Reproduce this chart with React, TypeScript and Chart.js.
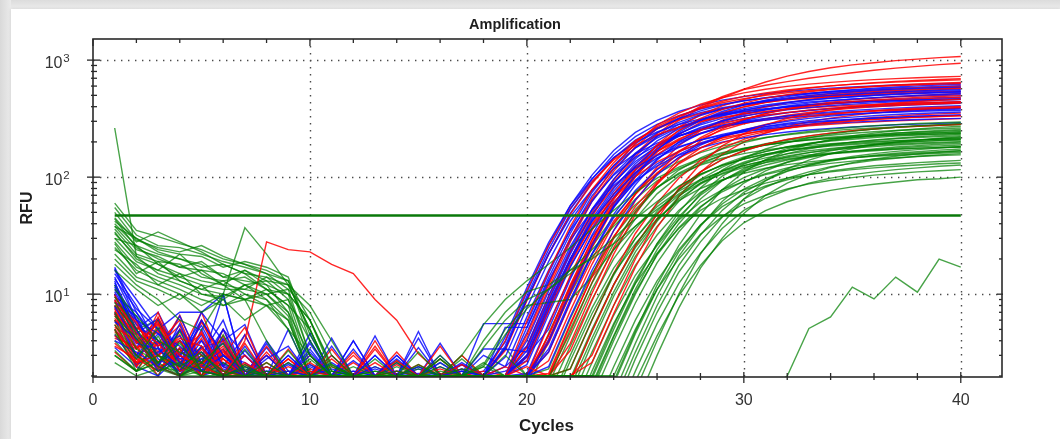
import React, { useEffect, useRef } from "react";
import { Chart, registerables } from "chart.js";

Chart.register(...registerables);

// ---------------- DATA ----------------
const cycles = [1, 2, 3, 4, 5, 6, 7, 8, 9, 10, 11, 12, 13, 14, 15, 16, 17, 18, 19, 20, 21, 22, 23, 24, 25, 26, 27, 28, 29, 30, 31, 32, 33, 34, 35, 36, 37, 38, 39, 40];
const xTickLabels = [0, 10, 20, 30, 40];
const xMinorTicks = [2, 4, 6, 8, 12, 14, 16, 18, 22, 24, 26, 28, 32, 34, 36, 38];
const yTickLabels = [10, 100, 1000];
const yTickExponents = ["1", "2", "3"];
const yMinorTicks = [2, 3, 4, 5, 6, 7, 8, 9, 20, 30, 40, 50, 60, 70, 80, 90, 200, 300, 400, 500, 600, 700, 800, 900];
const thresholdRFU = 47;
const thresholdCycles = [1, 40];

// each curve: s = first cycle of the rise, n = baseline RFU from cycle 1, r = RFU from cycle s to 40
const blueCurves = [
  { s: 19, n: [17, 7, 4, 3, 6, 3, 2.2, 3, 2, 4.6, 2, 2.2, 2, 2, 2.1, 2, 2, 2.2, 2.5, 2, 2, 2, 2, 2], r: [3.9, 10.4, 26, 57, 104, 169, 241, 306, 364, 413, 455, 488, 516, 540, 559, 576, 590, 602, 612, 621, 629, 636] },
  { s: 19, n: [14, 6, 3, 5, 2.5, 10, 2, 2, 3, 2, 4.2, 2, 2.3, 2, 2, 2, 2.5, 2, 2, 2.3, 2, 2, 2, 2], r: [3.4, 9, 22, 49, 90, 146, 207, 263, 314, 356, 392, 420, 445, 465, 482, 496, 508, 519, 528, 535, 542, 548] },
  { s: 19, n: [12, 5, 7, 3, 4, 2.5, 2, 3.5, 2, 2, 2, 4, 2, 2, 4.8, 2, 2, 2, 2.2, 2, 2, 2, 2, 2], r: [2.9, 7.7, 19, 42, 77, 125, 178, 226, 269, 305, 336, 360, 381, 398, 413, 425, 436, 444, 452, 459, 465, 469] },
  { s: 19, n: [10, 4, 3, 6.5, 2.6, 3, 2.2, 2, 2.5, 2, 2, 2, 3, 2, 2, 2.4, 2, 3, 2, 2, 2, 2, 2, 2], r: [2.4, 6.4, 16, 35, 64, 104, 148, 188, 224, 254, 280, 300, 318, 332, 344, 354, 363, 370, 377, 382, 387, 391] },
  { s: 20, n: [9, 3.5, 6, 2.5, 7, 4, 5.5, 2, 2, 3.2, 2, 2.2, 2, 2.6, 2, 2, 2, 5.6, 5.6, 2, 2, 2, 2, 2], r: [5.6, 15, 36, 74, 126, 192, 258, 317, 368, 412, 448, 477, 502, 522, 539, 554, 567, 578, 587, 595, 603] },
  { s: 20, n: [8, 5, 2.5, 4, 3, 6, 2, 4, 2.2, 2, 3, 2, 2, 2, 3.5, 2, 2, 2, 2, 3.2, 2, 2, 2, 2], r: [4.7, 12.5, 30, 62, 106, 161, 216, 266, 309, 345, 375, 400, 421, 438, 452, 465, 475, 485, 492, 499, 505] },
  { s: 20, n: [7, 3, 5, 2.2, 3.5, 2.4, 4.5, 2, 3, 2, 2, 2.7, 2, 2, 2, 2, 2.3, 2, 2, 2, 2, 2, 2, 2], r: [4, 10.6, 25.5, 53, 90, 136, 183, 225, 261, 292, 318, 339, 356, 370, 383, 393, 402, 410, 416, 422, 428] },
  { s: 20, n: [6, 4, 2.4, 5, 2, 3, 2.6, 2, 2, 4, 2, 2, 2, 2.2, 2, 3, 2, 2, 2.4, 2, 2, 2, 2, 2], r: [3.6, 9.6, 24, 53, 96, 156, 222, 282, 336, 382, 420, 450, 476, 498, 516, 532, 545, 556, 565, 574, 581] },
  { s: 20, n: [16, 9, 5, 7, 7, 10, 2, 2.2, 2, 2.4, 2, 2, 2, 3, 2, 2, 2, 2, 2, 2, 2, 2, 2, 2], r: [3, 8, 20, 44, 80, 130, 185, 235, 280, 318, 350, 375, 397, 415, 430, 443, 454, 463, 471, 478, 484] },
  { s: 20, n: [11, 6, 3, 2.5, 4.5, 2, 3, 2, 5, 2, 2, 2, 2, 2, 2.3, 2, 2, 2, 2, 2, 2, 2, 2, 2], r: [2.5, 6.7, 17, 37, 67, 109, 155, 197, 235, 267, 294, 315, 333, 349, 361, 372, 381, 389, 396, 402, 407] },
  { s: 20, n: [5, 3, 4, 2, 2.6, 5, 2, 2.4, 2, 2, 3.6, 2, 2, 2, 2, 2, 2.2, 2, 2, 2, 2, 2, 2, 2], r: [2.1, 5.6, 14, 31, 56, 91, 130, 165, 196, 223, 245, 263, 278, 291, 301, 310, 318, 324, 330, 335, 339] },
  { s: 21, n: [13, 4, 2.6, 3.4, 2, 4.2, 2, 2, 2, 2.5, 2, 4, 2, 2, 2, 2, 2, 2, 2, 3, 2, 2, 2, 2], r: [5, 13.4, 32, 67, 114, 174, 233, 287, 333, 372, 404, 431, 454, 472, 487, 501, 512, 522, 530, 538] },
  { s: 21, n: [4.5, 2.5, 3.2, 4, 2, 2.3, 2, 3.8, 2, 2, 2, 2, 2.4, 2, 4.2, 2, 2, 2, 2, 2, 2, 2, 2, 2], r: [4.1, 11, 27, 55, 94, 143, 191, 236, 273, 305, 332, 354, 373, 387, 400, 411, 420, 429, 435, 442] },
  { s: 21, n: [9.5, 7, 3.5, 2, 5, 2.2, 2, 2, 2.6, 2, 2, 2, 2, 3, 2, 2, 2.5, 2, 2, 2, 2, 2, 2, 2], r: [3.2, 8.6, 22, 48, 86, 140, 200, 254, 302, 343, 378, 405, 429, 448, 464, 478, 490, 500, 509, 516] },
  { s: 20, n: [3.5, 2.4, 2, 3, 2.4, 2, 3.3, 2, 2, 2, 2.3, 2, 2, 2, 2, 2.6, 2, 2, 2.2, 2, 2, 2, 2, 2], r: [2.7, 7.2, 17.4, 36, 61, 93, 125, 154, 178, 199, 217, 231, 243, 253, 261, 268, 274, 280, 284, 288, 292] },
  { s: 19, n: [12.5, 5.5, 4, 2.2, 2.8, 3.8, 2, 2, 2, 3.4, 2, 2, 2, 2, 2, 2, 2, 2, 2, 2, 2, 2, 2, 2], r: [3.4, 9.1, 22, 46, 78, 118, 158, 195, 226, 252, 274, 293, 308, 320, 331, 340, 347, 354, 359, 365, 369, 372] },
  { s: 19, n: [15, 8, 3.6, 4.4, 2.2, 5, 3, 2, 2, 2, 2.6, 2, 4.4, 2, 2, 2, 2, 2, 2, 2, 2, 2, 2, 2], r: [3.6, 9.6, 24, 53, 96, 156, 222, 282, 336, 382, 420, 450, 476, 498, 516, 532, 545, 556, 565, 574, 581, 587] },
  { s: 19, n: [11.5, 4.6, 6.2, 3, 2, 2.6, 2, 2.8, 3.6, 2, 2, 2, 2, 2, 2, 3.8, 2, 2, 2, 2, 2, 2, 2, 2], r: [4.3, 11.4, 27.6, 57, 97, 147, 198, 243, 282, 315, 343, 366, 385, 400, 413, 425, 434, 443, 449, 456, 462, 466] },
  { s: 20, n: [8.5, 6.5, 2.8, 2.2, 4, 2, 3.6, 2, 2, 2, 2, 2, 2, 2, 2.4, 2, 2, 2, 5.2, 2, 2, 2, 2, 2], r: [5.2, 13.8, 33, 69, 117, 178, 239, 294, 342, 382, 415, 443, 466, 484, 500, 514, 526, 536, 544, 552, 559] },
  { s: 20, n: [6.8, 2.8, 4.6, 3.6, 2.4, 3.4, 2, 2, 2, 3, 2, 2, 2, 2.8, 2, 2, 2, 2, 2, 2, 2, 2, 2, 2], r: [2.9, 7.6, 19, 42, 76, 124, 176, 223, 266, 302, 333, 356, 377, 394, 409, 421, 431, 440, 447, 454, 460] },
  { s: 21, n: [13.5, 7.5, 5, 2.8, 3.2, 2, 2, 2.2, 2, 2, 2, 2, 2, 2, 2, 2, 2.6, 2, 2, 2, 2, 2, 2, 2], r: [3.9, 10.4, 26, 57, 104, 169, 241, 306, 364, 413, 455, 488, 516, 540, 559, 576, 590, 602, 612, 621] },
  { s: 21, n: [5.8, 4.2, 2.2, 3, 5.4, 2.4, 2, 3, 2, 2, 2, 3.4, 2, 2, 2, 2, 2, 2, 2, 2, 2, 2, 2, 2], r: [3.4, 9, 22, 45, 77, 116, 156, 192, 223, 249, 271, 289, 304, 316, 326, 335, 343, 350, 355, 360] },
  { s: 20, n: [10.5, 5, 2.4, 5.6, 2.2, 2, 2.4, 2, 2, 2, 2, 2, 2, 2, 2, 2, 2, 3.4, 3.4, 2, 2, 2, 2, 2], r: [3.2, 8.4, 20, 42, 71, 109, 146, 179, 208, 232, 253, 270, 284, 295, 305, 313, 320, 326, 331, 336, 340] },
  { s: 19, n: [4, 3.2, 2.4, 2, 3.6, 2, 2, 2, 2.2, 2, 2, 2, 2, 2, 2, 2, 2, 2, 2, 2, 2, 2, 2, 2], r: [2, 5.2, 13, 29, 52, 85, 120, 153, 182, 207, 228, 244, 258, 270, 280, 288, 295, 301, 306, 311, 315, 318] },
  { s: 20, n: [16.5, 6, 4.6, 2.6, 2.2, 3, 2.2, 2, 2, 3.8, 2, 2, 2, 2, 2, 2, 2.2, 2, 2, 2, 2, 2, 2, 2], r: [3.3, 8.8, 22, 48, 88, 143, 204, 259, 308, 350, 385, 413, 437, 457, 473, 487, 499, 509, 518, 526, 532] },
  { s: 21, n: [7.8, 3.8, 3.4, 2.4, 6, 3, 2, 2, 2, 2, 2, 2, 3, 2, 2, 2, 2, 2, 2, 2, 2, 2, 2, 2], r: [2.4, 6.4, 16, 35, 64, 104, 148, 188, 224, 254, 280, 300, 318, 332, 344, 354, 363, 370, 377, 382] },
];

const redCurves = [
  { s: 20, n: [10, 4, 6, 3, 7, 2.5, 3, 2, 2, 2.3, 2, 2, 4, 2, 2, 2, 2, 2, 2, 2, 2, 2, 2, 2], r: [3.5, 9, 23, 50, 95, 158, 235, 318, 403, 487, 565, 650, 730, 800, 860, 910, 950, 990, 1020, 1050, 1075] },
  { s: 20, n: [8.5, 6, 3.2, 6.6, 2.5, 2, 4.5, 2, 2, 2, 2, 2, 2, 2.5, 2, 2, 2, 2.2, 2, 2, 2, 2, 2, 2], r: [3, 8, 20, 46, 90, 150, 225, 305, 390, 475, 560, 610, 655, 700, 740, 780, 820, 855, 885, 915, 940] },
  { s: 19, n: [7.5, 3, 7, 2.6, 3.5, 4, 2, 2.6, 2, 2, 2, 3.2, 2, 2, 2, 2, 2, 2, 2, 2, 2, 2, 2, 2], r: [3.3, 8.8, 22, 48, 88, 143, 204, 259, 308, 350, 385, 413, 437, 457, 473, 487, 499, 509, 518, 526, 532, 538] },
  { s: 20, n: [6.5, 5, 2.6, 4.5, 2, 5, 2.2, 2, 3.4, 2, 2, 2, 2, 2, 2.5, 2, 2, 2, 2, 2, 2, 2, 2, 2], r: [4.2, 11.2, 28, 62, 112, 182, 259, 329, 392, 445, 490, 525, 556, 581, 602, 620, 636, 648, 659, 669, 678] },
  { s: 20, n: [5.5, 2.6, 5.5, 2.2, 6, 2.4, 2, 2, 2, 3, 2, 2, 2, 2, 2, 2, 2.3, 2, 2, 2, 2, 2, 2, 2], r: [3.6, 9.6, 23, 48, 82, 124, 166, 205, 238, 266, 289, 308, 324, 337, 348, 358, 366, 373, 378, 384, 389] },
  { s: 21, n: [9, 4.8, 2.2, 3.5, 2.6, 3, 5.2, 2, 2, 2, 2, 2.6, 2, 2, 2, 2, 2, 2, 2, 2, 2, 2, 2, 2], r: [3.8, 10, 25, 55, 100, 163, 231, 294, 350, 398, 438, 469, 496, 519, 538, 554, 568, 579, 589, 598] },
  { s: 21, n: [4.2, 3.6, 2, 5, 3, 2, 2.5, 2, 2.8, 2, 2, 2, 2, 3.2, 2, 2, 2, 2, 2, 2, 2, 2, 2, 2], r: [3.2, 8.4, 20, 42, 71, 109, 146, 179, 208, 232, 253, 270, 284, 295, 305, 313, 320, 326, 331, 336] },
  { s: 21, n: [3.2, 2.2, 4, 2, 2.5, 3.6, 2, 2, 2, 2, 2.4, 2, 2, 2, 2, 2, 2, 2, 2.4, 2, 2, 2, 2, 2], r: [2.7, 7.2, 18, 40, 72, 117, 167, 212, 252, 286, 315, 338, 357, 374, 387, 399, 409, 417, 424, 430] },
  { s: 22, n: [7, 4, 3, 2.4, 4.2, 2, 2, 3, 2, 2, 2, 2, 2, 2, 2, 2, 2, 2, 2, 2, 2, 2, 2, 2], r: [5.4, 14.4, 35, 72, 122, 186, 250, 307, 356, 398, 433, 462, 486, 505, 522, 536, 548, 559, 568] },
  { s: 22, n: [6, 2.4, 3.8, 6, 2.2, 2, 2, 2, 2, 2, 2, 2, 3.6, 2, 2, 2, 2, 2, 2, 2, 2, 2, 2, 2], r: [2.3, 6, 15, 33, 60, 98, 139, 176, 210, 239, 263, 281, 298, 311, 323, 332, 341, 347, 353] },
  { s: 21, n: [9.5, 5.5, 3, 2.2, 5.8, 2.8, 2, 2, 2.2, 2, 2.8, 2, 2, 2, 2, 2, 2, 2, 2, 2, 2, 2, 2, 2], r: [4.5, 12, 29, 60, 102, 155, 208, 256, 297, 332, 361, 385, 405, 421, 435, 447, 457, 466, 473, 480] },
  { s: 22, n: [4.8, 3, 2.4, 2.8, 2, 4, 2, 3.2, 2, 2, 2, 2, 2, 2, 2, 2.8, 2, 2, 2, 2, 2, 2, 2, 2], r: [3.3, 8.8, 22, 48, 88, 143, 204, 259, 308, 350, 385, 413, 437, 457, 473, 487, 499, 509, 518] },
  { s: 20, n: [5, 3, 2.2, 3, 2.2, 2, 4, 28, 24, 23, 18, 15, 9, 6, 3.1, 2.1, 2, 2, 2, 2, 2, 2, 2, 2], r: [2.9, 7.8, 19, 39, 66, 101, 135, 166, 193, 216, 235, 250, 263, 274, 283, 291, 297, 303, 307, 312, 316] },
  { s: 23, n: [8, 3.4, 5, 2.6, 2.2, 3.3, 2, 2, 2, 2.6, 2, 2, 2, 2, 2, 2.3, 2, 2, 2, 2, 2, 2, 2, 2], r: [2.6, 6.8, 17, 37, 68, 110, 157, 200, 238, 270, 298, 319, 337, 353, 366, 377, 386, 394] },
  { s: 19, n: [3.8, 2.6, 3, 4, 2.4, 2, 2.2, 2, 2, 2, 3.4, 2, 2, 2, 2, 2, 2, 2, 2, 2, 2, 2, 2, 2], r: [4, 10.8, 26, 54, 92, 140, 187, 230, 267, 299, 325, 347, 365, 379, 392, 402, 411, 419, 426, 432, 437, 441] },
  { s: 21, n: [7.2, 4.4, 2.3, 3.2, 4.6, 2.2, 2, 3.6, 2, 2, 2, 2, 2, 2.2, 2, 2, 2, 2, 2, 2, 2, 2, 2, 2], r: [4.4, 11.6, 29, 64, 116, 189, 268, 341, 406, 461, 508, 544, 576, 602, 624, 642, 658, 671, 683, 693] },
  { s: 20, n: [6.2, 3.4, 4.8, 2.2, 3, 2.8, 2, 2, 2.4, 2, 2, 2, 2, 2, 2, 2, 3, 2, 2, 2, 2, 2, 2, 2], r: [2.7, 7.2, 18, 40, 72, 117, 167, 212, 252, 286, 315, 338, 357, 374, 387, 399, 409, 417, 424, 430, 436] },
  { s: 21, n: [8, 5.8, 2.6, 3, 2.4, 4.4, 2, 2, 2, 2, 2, 3, 2, 2, 2, 2, 2, 2, 2, 2, 2, 2, 2, 2], r: [5.4, 14.4, 35, 72, 122, 186, 250, 307, 356, 398, 433, 462, 486, 505, 522, 536, 548, 559, 568, 576] },
  { s: 22, n: [5, 2.4, 6.4, 2.6, 2.2, 2, 3, 2, 2, 2.2, 2, 2, 2, 2, 2, 3.6, 2, 2, 2, 2, 2, 2, 2, 2], r: [3.8, 10.2, 25, 51, 87, 132, 177, 218, 252, 282, 307, 327, 344, 358, 370, 380, 388, 396, 402] },
  { s: 21, n: [9.8, 4.6, 3.6, 5.4, 2, 3.2, 2, 2.4, 2, 2, 2, 2, 2.6, 2, 2, 2, 2, 2, 2, 2, 2, 2, 2, 2], r: [4, 10.8, 27, 59, 108, 176, 250, 317, 378, 429, 473, 506, 536, 560, 581, 598, 613, 625, 636, 645] },
  { s: 22, n: [3.6, 2.8, 2.2, 3.4, 2, 2.8, 2, 2, 2, 2, 2, 2, 2, 2, 2, 2, 2.5, 2, 2, 2, 2, 2, 2, 2], r: [1.8, 4.8, 12, 26, 48, 78, 111, 141, 168, 191, 210, 225, 238, 249, 258, 266, 272, 278, 283] },
  { s: 20, n: [7.6, 5.2, 3.8, 2.4, 4.8, 2, 2.6, 2, 2, 2, 3, 2, 2, 2, 2, 2, 2, 2, 2, 2, 2, 2, 2, 2], r: [5.9, 15.6, 38, 78, 133, 202, 270, 333, 386, 432, 469, 500, 526, 547, 566, 581, 594, 606, 615, 624, 632] },
  { s: 22, n: [4.4, 3.4, 5.8, 2.2, 2.6, 3.4, 2, 2, 2, 2, 2, 2, 2, 2.7, 2, 2, 2, 2, 2, 2, 2, 2, 2, 2], r: [4.7, 12.6, 30, 63, 107, 163, 218, 269, 312, 349, 379, 404, 425, 442, 457, 469, 480, 489, 497] },
  { s: 21, n: [6.8, 2.6, 3, 4.2, 3.6, 2, 2, 2, 2.8, 2, 2, 2, 2, 2, 2, 2, 2, 2, 2, 2, 2, 2, 2, 2], r: [2.1, 5.6, 14, 31, 56, 91, 130, 165, 196, 223, 245, 263, 278, 291, 301, 310, 318, 324, 330, 335] },
  { s: 23, n: [5.2, 4, 2.4, 2, 3.4, 2.2, 2, 2, 2, 2, 2, 2, 3.4, 2, 2, 2, 2, 2, 2, 2.4, 2, 2, 2, 2], r: [3, 8, 20, 44, 80, 130, 185, 235, 280, 318, 350, 375, 397, 415, 430, 443, 454, 463] },
  { s: 20, n: [8.8, 3.8, 5.6, 3, 2.4, 2, 3.8, 2, 2, 2, 2, 2, 2, 2, 2, 2, 2, 2, 2, 2, 2, 2, 2, 2], r: [4.5, 12, 30, 66, 120, 195, 278, 353, 420, 477, 525, 563, 596, 623, 645, 665, 681, 695, 707, 717, 726] },
];

const greenCurves = [
  { s: 20, n: [60, 35, 31, 27, 24, 20, 18, 16, 13, 4, 2, 2, 2, 2, 2.4, 2, 2, 2, 2, 2, 2, 2, 2, 2], r: [1.7, 4.6, 11.6, 25.5, 46, 75, 107, 136, 162, 184, 203, 218, 230, 241, 249, 257, 263, 269, 273, 277, 281] },
  { s: 20, n: [55, 32, 26, 25, 22, 19, 17, 15, 11, 3, 2, 2, 2, 2.2, 2, 2, 2.8, 2, 2, 2, 2, 2, 2, 2], r: [1.5, 4, 10, 22, 40, 65, 93, 118, 140, 159, 175, 188, 199, 208, 215, 222, 227, 232, 236, 239, 242] },
  { s: 21, n: [45, 28, 34, 28, 23, 18, 15, 14, 12, 5, 2, 1.8, 2, 2, 2, 2, 2, 2, 3.5, 2, 2, 2, 2, 2], r: [1.7, 4.4, 11, 24, 44, 72, 102, 129, 154, 175, 193, 206, 218, 228, 237, 244, 250, 255, 259, 263] },
  { s: 21, n: [42, 30, 24, 22, 21, 17, 19, 17, 14, 4.5, 2.2, 2, 2, 2, 2, 2.6, 2, 2, 2, 2, 2, 2, 2, 2], r: [1.4, 3.6, 9, 20, 36, 59, 83, 106, 126, 143, 158, 169, 179, 187, 194, 199, 204, 208, 212, 215] },
  { s: 21, n: [40, 26, 22, 20, 18, 14, 13, 12, 10, 3, 2, 2, 2.4, 2, 2, 2, 2, 2, 2, 2, 2, 2, 2, 2], r: [1.1, 3, 7.6, 16.7, 30, 49, 70, 89, 106, 121, 133, 143, 151, 158, 163, 168, 173, 176, 179, 182] },
  { s: 22, n: [38, 24, 21, 17, 16, 15, 12, 13, 9, 2.5, 2, 1.8, 2, 2, 2, 2, 2.2, 2, 2, 2, 2, 2, 2, 2], r: [1.8, 4.8, 12, 26, 48, 78, 111, 141, 168, 191, 210, 225, 238, 249, 258, 266, 272, 278, 283] },
  { s: 22, n: [36, 22, 19, 18, 14, 13, 14, 11, 8, 2.2, 2, 2, 2, 2.7, 2, 2, 2, 2, 2, 2, 2, 2, 2, 2], r: [1.4, 3.8, 9.6, 21, 38, 62, 89, 113, 134, 153, 168, 180, 191, 199, 206, 213, 218, 222, 226] },
  { s: 22, n: [33, 21, 18, 15, 13, 12, 16, 12, 7, 2, 2, 1.8, 2, 2, 2, 2, 2, 2.4, 2, 2, 2, 2, 2, 2], r: [1.2, 3.2, 8, 17.6, 32, 52, 74, 94, 112, 127, 140, 150, 159, 166, 172, 177, 182, 185, 188] },
  { s: 22, n: [30, 19, 16, 14, 12, 11, 11, 10, 6.5, 2, 2, 2, 2, 2, 2, 3, 2, 2, 2, 2, 2, 2, 2, 2], r: [1, 2.6, 6.6, 14.5, 26, 43, 61, 78, 92, 105, 116, 124, 131, 137, 142, 146, 150, 153, 155] },
  { s: 23, n: [28, 17, 14, 12, 10, 9.5, 12, 9, 6, 2, 1.8, 2, 2, 2, 2, 2, 2, 2, 2, 2, 2, 2, 2, 2], r: [1.7, 4.4, 11, 24, 44, 72, 102, 129, 154, 175, 193, 206, 218, 228, 237, 244, 250, 255] },
  { s: 23, n: [25, 16, 13, 11, 9, 8, 10, 9, 5, 2, 2, 1.8, 2, 2, 2.3, 2, 2, 2, 2, 2, 2, 2, 2, 2], r: [1.3, 3.4, 8.4, 18.5, 34, 55, 78, 99, 118, 134, 147, 158, 167, 174, 181, 186, 191, 194] },
  { s: 23, n: [22, 14, 12, 10, 8, 10, 37, 22, 12, 5, 2, 1.8, 2, 2, 2, 2, 2, 2, 2, 2, 2, 2, 2, 2], r: [0.9, 2.4, 6, 13, 24, 39, 56, 71, 84, 95, 105, 113, 119, 125, 129, 133, 136, 139] },
  { s: 24, n: [4, 2.5, 3.5, 2, 2.8, 2, 2, 2.4, 2, 2, 2, 2, 2, 2.6, 2, 2, 2, 2, 2, 2, 2, 2, 2, 2], r: [0.7, 1.8, 4.4, 9.7, 17.6, 28.6, 40.7, 51.7, 61.6, 70, 77, 82.5, 87, 91, 95, 97, 100] },
  { s: 24, n: [6, 3, 2, 4, 2.2, 3, 2, 2, 2, 2, 2.2, 2, 2, 2, 2, 2.8, 2, 2, 2, 2, 2, 2, 2, 2], r: [1, 2.8, 7, 15.4, 28, 45.5, 65, 82, 98, 111, 123, 131, 139, 145, 151, 155, 159] },
  { s: 24, n: [12, 5, 6, 2.6, 3.2, 2.2, 2.4, 2, 2, 2, 2, 2, 2.2, 2, 2, 2, 3, 2, 2, 2, 2, 2, 2, 2], r: [0.8, 2.2, 5.6, 12.3, 22.4, 36.4, 52, 66, 78, 89, 98, 105, 111, 116, 120, 124, 127] },
  { s: 21, n: [18, 12, 9, 6, 4.9, 10, 9, 4, 2, 2, 1.8, 2, 2, 2, 2, 2, 2, 2, 2, 2, 2, 2, 2, 2], r: [2.3, 6.2, 15, 31, 53, 81, 108, 133, 154, 173, 188, 200, 211, 219, 226, 232, 238, 242, 246, 250] },
  { s: 22, n: [263, 21, 15, 13, 11, 10, 9, 8, 6, 2, 2, 1.8, 2, 2, 2, 2, 2, 2, 2, 2, 2, 2, 2, 2], r: [1.9, 5, 12, 25, 43, 65, 87, 108, 125, 139, 152, 162, 170, 177, 183, 188, 192, 196, 199] },
  { s: 23, n: [3, 2.2, 2.6, 3.4, 2, 2, 2.5, 2, 2, 2, 2, 2, 2, 2, 2.4, 2, 2, 2, 2, 2, 2, 2, 2, 2], r: [1.6, 4.3, 10.4, 21.6, 37, 56, 75, 92, 107, 120, 130, 139, 146, 152, 157, 161, 165, 168] },
  { s: 16, n: [8, 4, 2.4, 2.2, 3.6, 2, 2, 2, 2.6, 2, 2, 2, 2, 2, 2], r: [2, 3, 5.5, 9, 13, 18, 25, 36, 52, 74, 98, 122, 144, 162, 177, 189, 199, 207, 214, 219, 224, 228, 231, 234, 236] },
  { s: 17, n: [5, 2.2, 4.4, 2, 2, 2.6, 2, 2, 2, 2, 2, 2, 2.8, 2, 2, 2], r: [2, 4, 7, 10.5, 12, 16, 24, 38, 58, 82, 106, 127, 145, 159, 171, 180, 187, 193, 198, 202, 205, 208, 210, 212] },
  { s: 18, n: [2.6, 2, 2.3, 2, 2.2, 2, 2, 2, 2, 2, 2, 2, 2, 2, 2, 2, 2], r: [2.5, 5, 8, 8.5, 9, 14, 24, 38, 56, 76, 95, 112, 126, 138, 147, 155, 161, 166, 170, 174, 177, 179, 181] },
  { s: 23, n: [50, 29, 25, 23, 26, 21, 18, 15, 13, 6, 2.5, 2, 2, 2, 2, 2, 2, 2, 2, 2, 2, 2, 2, 2], r: [0.75, 2, 5, 11, 20, 32.5, 46, 59, 70, 79.5, 87.5, 94, 99, 104, 107.5, 111, 113.5, 116] },
  { s: 31, n: [3, 2.2, 2.6, 2, 2.4, 2, 2, 2, 2.2, 2, 2, 2, 2, 2, 2, 2.4, 2, 2, 2, 2, 1.5, 1.5, 1.5, 1.5, 1.5, 1.5, 1.5, 1.5, 1.5, 1.5], r: [1.5, 2, 5.1, 6.4, 11.5, 9.1, 14, 10.4, 19.9, 17] },
  { s: 21, n: [34, 20, 16, 22, 15, 12, 11, 14, 10, 6, 2.4, 2, 2, 2, 2.5, 2, 2, 2, 2, 2, 2, 2, 2, 2], r: [1.9, 5, 12.4, 27, 50, 81, 115, 146, 174, 197, 217, 233, 246, 257, 267, 275, 281, 287, 292, 296] },
  { s: 22, n: [30, 26, 18, 14, 16, 12, 9, 10, 11, 7, 3, 2, 2, 2, 2, 2, 2.3, 2, 2, 2, 2, 2, 2, 2], r: [1.6, 4.2, 10.4, 23, 42, 68, 96, 122, 146, 165, 182, 195, 206, 216, 224, 230, 236, 241, 245] },
  { s: 22, n: [27, 15, 19, 13, 11, 13, 10, 8, 9, 4, 2, 2, 2, 2.4, 2, 2, 2, 2, 2, 2, 2, 2, 2, 2], r: [2.3, 6, 14.5, 30, 51, 78, 104, 128, 149, 166, 181, 193, 203, 211, 218, 224, 229, 233, 237] },
  { s: 23, n: [24, 18, 12, 15, 10, 9, 12, 10, 7, 3, 2, 2, 2, 2, 2, 2, 2, 2, 3, 2, 2, 2, 2, 2], r: [1.9, 5, 12.4, 27, 50, 81, 115, 146, 174, 197, 217, 233, 246, 257, 267, 275, 281, 287] },
  { s: 23, n: [20, 13, 11, 9, 12, 8, 9, 11, 8, 5, 2, 1.8, 2, 2, 2, 2, 2, 2, 2, 2, 2, 2, 2, 2], r: [1.5, 4, 10, 22, 40, 65, 93, 118, 140, 159, 175, 188, 199, 208, 215, 222, 227, 232] },
  { s: 23, n: [16, 11, 8, 10, 7, 9, 6, 8, 5, 3, 2, 2, 2.2, 2, 2, 2, 2, 2, 2, 2, 2, 2, 2, 2], r: [2, 5.4, 13, 27, 46, 70, 94, 115, 134, 149, 162, 173, 182, 189, 196, 201, 206, 210] },
  { s: 24, n: [44, 25, 20, 17, 19, 14, 16, 13, 12, 8, 4, 2, 2, 2, 2, 2, 2, 2, 2, 2, 2, 2, 2, 2], r: [1.8, 4.8, 12, 26, 48, 78, 111, 141, 168, 191, 210, 225, 238, 249, 258, 266, 272] },
  { s: 24, n: [38, 30, 23, 20, 17, 18, 15, 11, 10, 6, 2.2, 2, 2, 2, 2, 2.2, 2, 2, 2, 2, 2, 2, 2, 2], r: [1.4, 3.8, 9.6, 21, 38, 62, 89, 113, 134, 153, 168, 180, 191, 199, 206, 213, 218] },
  { s: 24, n: [7, 3.4, 2.6, 4.8, 2.2, 2, 3.4, 2, 2, 2, 2, 2.4, 2, 2, 2, 2, 2, 2, 2, 2, 2, 2, 2, 2], r: [1.2, 3.2, 8, 17.6, 32, 52, 74, 94, 112, 127, 140, 150, 159, 166, 172, 177, 182] },
  { s: 24, n: [9.5, 5, 3, 2.4, 2, 4.5, 2.2, 2, 2, 2.8, 2, 2, 2, 2, 2, 2, 2, 2, 2, 2, 2, 2, 2, 2], r: [1.7, 4.6, 11, 23, 39, 59, 79, 97, 113, 126, 137, 146, 154, 160, 165, 170, 174] },
  { s: 25, n: [4.6, 2.8, 5.2, 2.4, 3.2, 2, 2, 2.6, 2, 2, 2, 2, 2, 2, 3.2, 2, 2, 2, 2, 2, 2, 2, 2, 2], r: [1.5, 4, 10, 22, 40, 65, 93, 118, 140, 159, 175, 188, 199, 208, 215, 222] },
  { s: 25, n: [3.3, 2.2, 3, 2, 2.6, 2, 2.3, 2, 2, 2, 2, 2, 2, 2, 2, 2, 2, 2.6, 2, 2, 2, 2, 2, 2], r: [1.1, 3, 7.6, 16.7, 30, 49, 70, 89, 106, 121, 133, 143, 151, 158, 163, 168] },
  { s: 22, n: [11, 6.5, 4, 3.2, 2.6, 3.8, 2, 2, 2, 2, 2.5, 2, 2, 2, 2, 2, 2, 2, 2, 2, 2, 2, 2, 2], r: [0.8, 2.2, 5.6, 12.3, 22.4, 36.4, 52, 66, 78, 89, 98, 105, 111, 116, 120, 124, 127, 130, 132] },
  { s: 21, n: [6.5, 4.2, 2.4, 2, 3, 2.2, 2, 2, 3.3, 2, 2, 2, 2, 2, 2, 2, 2, 2, 2, 2, 2, 2, 2, 2], r: [1, 2.7, 6.8, 15, 27, 44, 63, 80, 95, 108, 119, 128, 135, 141, 146, 151, 154, 157, 160, 163] },
  { s: 17, n: [5.5, 3, 2.2, 2.6, 2, 2, 2.4, 2, 2, 2, 2, 2, 2, 2.2, 2, 2], r: [2, 3.5, 6, 9, 11, 15, 21, 30, 44, 62, 84, 106, 126, 143, 157, 168, 177, 184, 190, 195, 199, 202, 205, 207] },
  { s: 18, n: [8.5, 4.5, 2.6, 3.8, 2.2, 2, 2, 2.2, 2, 2, 2, 2, 2, 2, 2, 2.8, 2], r: [2.4, 4.5, 7.5, 11, 16, 20, 27, 38, 53, 72, 93, 113, 131, 146, 158, 168, 176, 183, 188, 192, 196, 199, 201] },
];

// ---------------- STYLE ----------------
const BLUE = "rgba(10,10,255,0.85)";
const RED = "rgba(255,0,0,0.85)";
const GREEN = "rgba(0,128,0,0.72)";
const FONT = '"Liberation Sans", Arial, Helvetica, sans-serif';

type Curve = { s: number; n: number[]; r: number[] };

function toPoints(c: Curve) {
  return cycles.map((cy) => {
    const v = cy < c.s ? c.n[cy - 1] : c.r[cy - c.s];
    return { x: cy, y: v === undefined ? null : v };
  });
}

function curveDataset(c: Curve, color: string) {
  return {
    data: toPoints(c),
    borderColor: color,
    borderWidth: 1.4,
    pointRadius: 0,
    fill: false,
    tension: 0,
  };
}

const axesPlugin = {
  id: "pcrAxes",
  beforeDatasetsDraw(chart: any) {
    const { ctx, chartArea: a, scales } = chart;
    const x = scales.x;
    const y = scales.y;
    ctx.save();
    ctx.strokeStyle = "#4a4a4a";
    ctx.lineWidth = 1.4;
    ctx.setLineDash([1.4, 5.6]);
    xTickLabels.forEach((v) => {
      if (v === 0) return;
      const px = Math.round(x.getPixelForValue(v)) + 0.5;
      ctx.beginPath();
      ctx.moveTo(px, a.top);
      ctx.lineTo(px, a.bottom);
      ctx.stroke();
    });
    yTickLabels.forEach((v) => {
      const py = Math.round(y.getPixelForValue(v)) + 0.5;
      ctx.beginPath();
      ctx.moveTo(a.left, py);
      ctx.lineTo(a.right, py);
      ctx.stroke();
    });
    ctx.restore();
  },
  afterDatasetsDraw(chart: any) {
    const { ctx, chartArea: a, scales } = chart;
    const x = scales.x;
    const y = scales.y;
    ctx.save();
    ctx.setLineDash([]);
    ctx.strokeStyle = "#2a2a2a";
    ctx.lineWidth = 1.6;
    ctx.strokeRect(a.left, a.top, a.right - a.left, a.bottom - a.top);

    const seg = (x1: number, y1: number, x2: number, y2: number) => {
      ctx.beginPath();
      ctx.moveTo(x1, y1);
      ctx.lineTo(x2, y2);
      ctx.stroke();
    };
    ctx.lineWidth = 1.3;
    xTickLabels.forEach((v) => {
      const px = x.getPixelForValue(v);
      seg(px, a.bottom - 5, px, a.bottom + 6);
      seg(px, a.top, px, a.top + 7);
    });
    xMinorTicks.forEach((v) => {
      const px = x.getPixelForValue(v);
      seg(px, a.bottom - 4, px, a.bottom + 3);
      seg(px, a.top, px, a.top + 4);
    });
    yTickLabels.forEach((v) => {
      const py = y.getPixelForValue(v);
      seg(a.left - 6, py, a.left + 7, py);
      seg(a.right - 5, py, a.right + 1, py);
    });
    yMinorTicks.forEach((v) => {
      const py = y.getPixelForValue(v);
      if (py < a.top || py > a.bottom) return;
      seg(a.left - 2, py, a.left + 4, py);
      seg(a.right - 3, py, a.right, py);
    });

    ctx.fillStyle = "#333";
    ctx.textBaseline = "alphabetic";
    ctx.font = `16px ${FONT}`;
    ctx.textAlign = "center";
    xTickLabels.forEach((v) => {
      ctx.fillText(String(v), x.getPixelForValue(v), a.bottom + 27.5);
    });
    yTickLabels.forEach((v, i) => {
      const py = y.getPixelForValue(v);
      ctx.font = `16px ${FONT}`;
      ctx.textAlign = "right";
      ctx.fillText("10", 62.5, py + 8);
      ctx.font = `11.5px ${FONT}`;
      ctx.textAlign = "left";
      ctx.fillText(yTickExponents[i], 63.3, py + 1.6);
    });

    ctx.fillStyle = "#1e1e1e";
    ctx.font = `bold 14.5px ${FONT}`;
    ctx.textAlign = "center";
    ctx.fillText("Amplification", 515, 28.5);
    ctx.font = `bold 17px ${FONT}`;
    ctx.fillText("Cycles", 546.5, 430.5);
    ctx.save();
    ctx.translate(32, 208);
    ctx.rotate(-Math.PI / 2);
    ctx.font = `bold 16px ${FONT}`;
    ctx.textAlign = "center";
    ctx.fillText("RFU", 0, 0);
    ctx.restore();
    ctx.restore();
  },
};

export default function App() {
  const ref = useRef<HTMLCanvasElement | null>(null);

  useEffect(() => {
    if (!ref.current) return;
    const layered: any[] = [];
    const count = Math.max(blueCurves.length, redCurves.length, greenCurves.length);
    for (let i = 0; i < count; i++) {
      if (greenCurves[i]) layered.push(curveDataset(greenCurves[i], GREEN));
      if (blueCurves[i]) layered.push(curveDataset(blueCurves[i], BLUE));
      if (redCurves[i]) layered.push(curveDataset(redCurves[i], RED));
    }
    layered.reverse();
    const threshold = {
      data: thresholdCycles.map((c) => ({ x: c, y: thresholdRFU })),
      borderColor: "rgb(10,120,10)",
      borderWidth: 2.6,
      pointRadius: 0,
      fill: false,
      order: -1,
    };
    const chart = new Chart(ref.current, {
      type: "line",
      data: { datasets: [threshold, ...layered] as any },
      options: {
        animation: false,
        responsive: false,
        maintainAspectRatio: false,
        events: [],
        layout: { padding: { left: 93, top: 39, right: 58, bottom: 62 } },
        plugins: {
          legend: { display: false },
          tooltip: { enabled: false },
          title: { display: false },
        },
        scales: {
          x: { type: "linear", min: 0, max: 41.9, display: false },
          y: { type: "logarithmic", min: 1.96, max: 1515, display: false },
        },
      },
      plugins: [axesPlugin],
    });
    return () => chart.destroy();
  }, []);

  return (
    <div style={{ position: "fixed", left: 0, top: 0, width: 1060, height: 439, background: "linear-gradient(180deg, #dcdcdc 0px, #ececec 9px)", overflow: "hidden" }}>
      <div style={{ position: "absolute", left: 0, top: 0, width: 11, height: 439, background: "linear-gradient(90deg, #d9d9d9 0px, #ebebeb 11px)" }} />
      <div style={{ position: "absolute", left: 11, top: 9, right: 0, bottom: 0, background: "#ffffff", boxShadow: "0 0 3px rgba(0,0,0,0.12)" }} />
      <canvas ref={ref} width={1060} height={439} style={{ position: "absolute", left: 0, top: 0, width: 1060, height: 439 }} />
    </div>
  );
}
